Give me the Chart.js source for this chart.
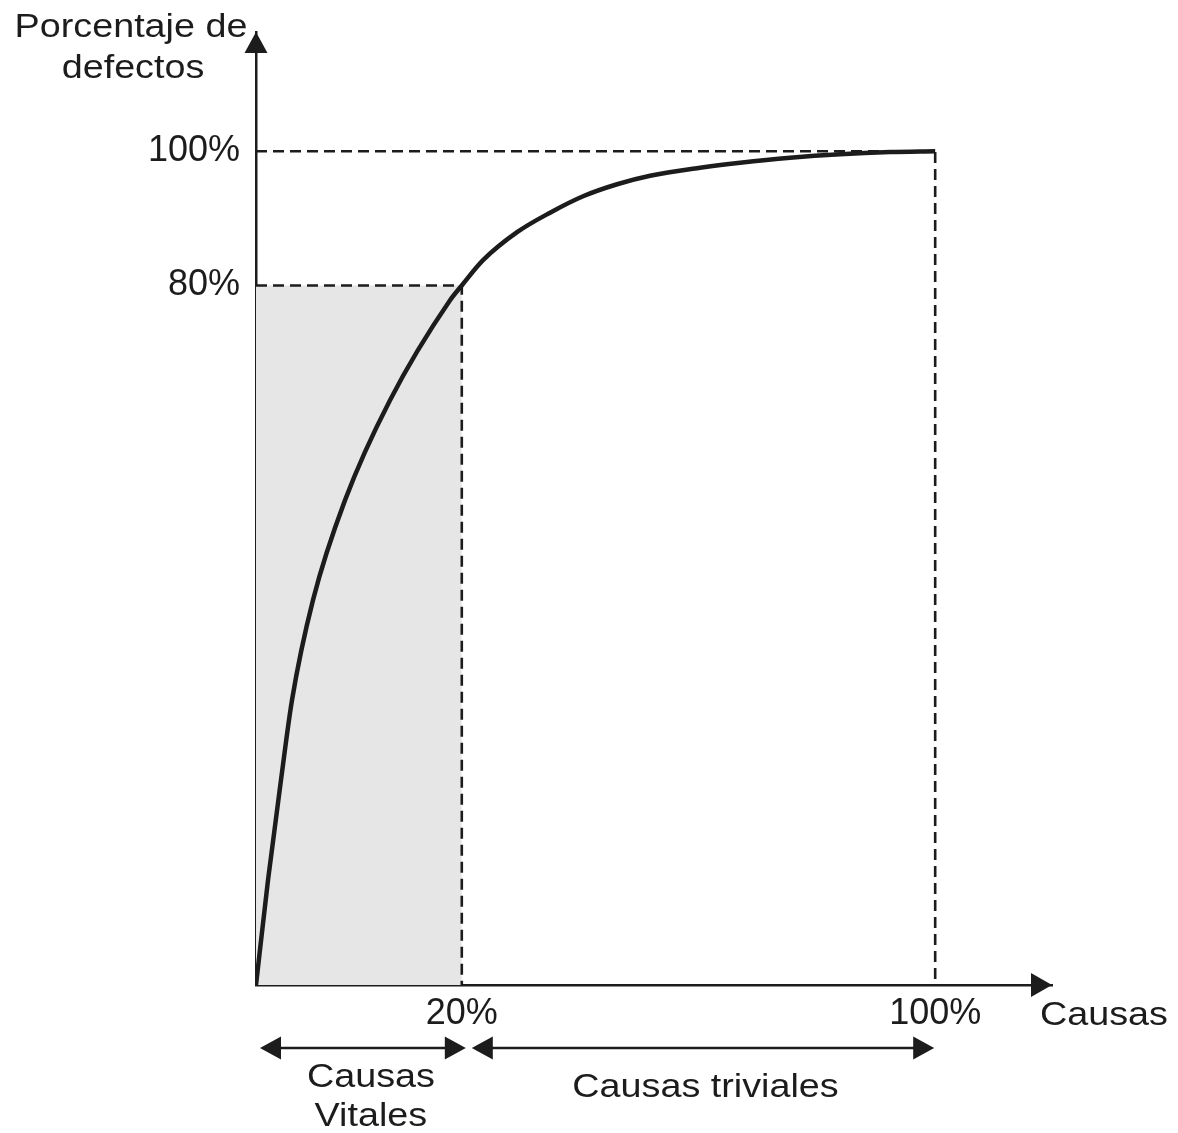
<!DOCTYPE html>
<html>
<head>
<meta charset="utf-8">
<script src="https://cdn.jsdelivr.net/npm/chart.js@4/dist/chart.umd.min.js"></script>
<style>
  html, body { margin: 0; padding: 0; background: #ffffff; }
  #wrap { width: 1178px; height: 1133px; position: relative; }
</style>
</head>
<body>
<div id="wrap"><canvas id="c" width="1178" height="1133"></canvas></div>
<script>
// ---- Data (diagram units: x 0..100 = origin..100% causes, y 0..100 = origin..100% defects)
const curveX = [0, 1.77, 3.68, 5.30, 8.39, 13.11, 19.73, 28.57, 30.3, 33.43, 38.44, 43.30, 48.16, 53.17, 58.03, 65.39, 71.28, 78.65, 86.01, 93.37, 100];
const curveY = [0, 12.59, 24.58, 34.17, 46.16, 58.15, 70.14, 82.13, 83.9, 86.93, 90.29, 92.63, 94.60, 96.04, 97.06, 98.02, 98.62, 99.22, 99.64, 99.90, 100];

const xTickPos = [30.3, 100];
const xTickLabels = ['20%', '100%'];
const yTickPos = [83.9, 100];
const yTickLabels = ['80%', '100%'];

const vitalRange = [0, 30.3];      // Causas vitales
const trivialRange = [30.3, 100];  // Causas triviales

const yTitleLines = ['Porcentaje de', 'defectos'];
const xTitle = 'Causas';
const vitalLabel = ['Causas', 'Vitales'];
const trivialLabel = 'Causas triviales';

const INK = '#1c1c1c';
const FONT = '"Liberation Sans", Arial, sans-serif';

const curvePts = curveX.map((x, i) => ({ x: x, y: curveY[i] }));
const dash100 = [{ x: 0, y: yTickPos[1] }, { x: xTickPos[1], y: yTickPos[1] }, { x: xTickPos[1], y: 0 }];
const dash80 = [{ x: 0, y: yTickPos[0] }, { x: xTickPos[0], y: yTickPos[0] }, { x: xTickPos[0], y: 0 }];
const shade = [{ x: vitalRange[0], y: yTickPos[0] }, { x: vitalRange[1], y: yTickPos[0] }];

function stretchedText(ctx, text, x, y, align) {
  ctx.save();
  ctx.translate(x, y);
  ctx.scale(1.11, 1);
  ctx.textAlign = align;
  ctx.textBaseline = 'alphabetic';
  ctx.fillText(text, 0, 0);
  ctx.restore();
}

function tri(ctx, tx, ty, dx, dy, half) {
  const len = 21;
  const bx = tx - dx * len, by = ty - dy * len;
  ctx.beginPath();
  ctx.moveTo(tx, ty);
  ctx.lineTo(bx - dy * half, by + dx * half);
  ctx.lineTo(bx + dy * half, by - dx * half);
  ctx.closePath();
  ctx.fill();
}

function doubleArrow(ctx, x1, x2, y) {
  ctx.beginPath();
  ctx.moveTo(x1 + 10, y);
  ctx.lineTo(x2 - 10, y);
  ctx.stroke();
  tri(ctx, x1, y, -1, 0, 11.5);
  tri(ctx, x2, y, 1, 0, 11.5);
}

const decor = {
  id: 'decor',
  afterDraw(chart) {
    const ctx = chart.ctx;
    const xs = chart.scales.x, ys = chart.scales.y;
    const ca = chart.chartArea;
    const x0 = xs.getPixelForValue(0), y0 = ys.getPixelForValue(0);
    ctx.save();
    ctx.fillStyle = INK;
    ctx.strokeStyle = INK;
    ctx.lineWidth = 2.6;
    tri(ctx, x0, ca.top, 0, -1, 11.5);
    tri(ctx, ca.right, y0, 1, 0, 12);
    const ay = y0 + 63;
    doubleArrow(ctx, xs.getPixelForValue(vitalRange[0]) + 4, xs.getPixelForValue(vitalRange[1]) + 4, ay);
    doubleArrow(ctx, xs.getPixelForValue(trivialRange[0]) + 10, xs.getPixelForValue(trivialRange[1]) - 1, ay);
    ctx.font = '34px ' + FONT;
    stretchedText(ctx, yTitleLines[0], x0 - 125, 37, 'center');
    stretchedText(ctx, yTitleLines[1], x0 - 123, 78, 'center');
    stretchedText(ctx, xTitle, ca.right - 12, y0 + 40, 'left');
    const vc = (xs.getPixelForValue(vitalRange[0]) + xs.getPixelForValue(vitalRange[1])) / 2 + 12;
    stretchedText(ctx, vitalLabel[0], vc, y0 + 102, 'center');
    stretchedText(ctx, vitalLabel[1], vc, y0 + 141, 'center');
    const tc = (xs.getPixelForValue(trivialRange[0]) + xs.getPixelForValue(trivialRange[1])) / 2 + 7;
    stretchedText(ctx, trivialLabel, tc, y0 + 112, 'center');
    ctx.restore();
  }
};

new Chart(document.getElementById('c'), {
  type: 'scatter',
  data: {
    datasets: [
      { label: 'curva', data: curvePts, showLine: true, borderColor: INK, borderWidth: 4.5, pointRadius: 0, cubicInterpolationMode: 'monotone', fill: false, order: 0 },
      { label: '100', data: dash100, showLine: true, borderColor: INK, borderWidth: 2.6, borderDash: [11, 6], pointRadius: 0, fill: false, order: 1 },
      { label: '80', data: dash80, showLine: true, borderColor: INK, borderWidth: 2.6, borderDash: [11, 6], pointRadius: 0, fill: false, order: 1 },
      { label: 'zona', data: shade, showLine: true, borderWidth: 0, borderColor: 'rgba(0,0,0,0)', backgroundColor: '#e6e6e6', pointRadius: 0, fill: 'origin', order: 2 }
    ]
  },
  options: {
    responsive: false,
    animation: false,
    events: [],
    layout: { padding: { left: 0, top: 32, right: 126, bottom: 0 } },
    plugins: { legend: { display: false }, tooltip: { enabled: false } },
    scales: {
      x: {
        type: 'linear', min: 0, max: 117.2,
        afterFit(s) { s.height = 148; s.paddingLeft = 0; s.paddingRight = 0; },
        afterBuildTicks(s) { s.ticks = xTickPos.map(v => ({ value: v })); },
        grid: { display: false, drawTicks: false },
        border: { display: true, color: INK, width: 2.5 },
        ticks: { autoSkip: false, maxRotation: 0, padding: 7, color: INK, font: { size: 36, family: FONT }, callback: (v, i) => xTickLabels[i] }
      },
      y: {
        type: 'linear', min: 0, max: 114.3,
        afterFit(s) { s.width = 256; s.paddingTop = 0; s.paddingBottom = 0; },
        afterBuildTicks(s) { s.ticks = yTickPos.map(v => ({ value: v })); },
        grid: { display: false, drawTicks: false },
        border: { display: true, color: INK, width: 2.5 },
        ticks: { autoSkip: false, padding: 16, color: INK, font: { size: 36, family: FONT }, callback: (v, i) => yTickLabels[i] }
      }
    }
  },
  plugins: [decor]
});
</script>
</body>
</html>
